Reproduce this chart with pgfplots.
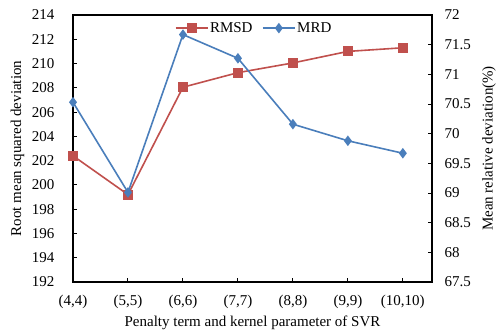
\documentclass[border=0pt]{standalone}
\usepackage{fontspec}
\setmainfont{Liberation Serif}
\usepackage{pgfplots}
\pgfplotsset{compat=1.18}
\definecolor{rred}{RGB}{192,80,77}
\definecolor{mblue}{RGB}{74,126,187}
\begin{document}
\begin{tikzpicture}
\pgfplotsset{
  every axis/.append style={
    scale only axis, width=359pt, height=267pt,
    xmin=0, xmax=6.53,
    tick align=inside,
    major tick length=4pt,
    every tick/.style={black, line width=1pt},
    tick label style={font=\fontsize{15}{17}\selectfont},
    label style={font=\fontsize{15}{17}\selectfont},
    /pgf/number format/assume math mode=true,
    axis line style={line width=1.3pt},
  }
}
\begin{axis}[
  name=main,
  ymin=192, ymax=214, ytick={192,194,...,214},
  xtick={0,...,6},
  xticklabels={(4,4),(5,5),(6,6),(7,7),(8,8),(9,9),(10,10)},
  xtick pos=bottom, ytick pos=left,
  xticklabel style={anchor=center, yshift=-20pt},
  yticklabel style={anchor=east, xshift=-15pt},
  xlabel={Penalty term and kernel parameter of SVR},
  ylabel={Root mean squared deviation},
  xlabel style={at={(axis description cs:0.5,0)}, anchor=center, yshift=-41pt},
  ylabel style={at={(axis description cs:-0.1546,0.5)}, anchor=center},
  clip=false,
]
\addplot[color=rred, line width=1.6pt, mark=square*, mark size=4.2pt, mark options={fill=rred}]
coordinates {(0,202.4) (1,199.2) (2,208.05) (3,209.25) (4,210.05) (5,211.0) (6,211.3)};
\end{axis}
\begin{axis}[
  ymin=67.5, ymax=72, ytick={67.5,68,...,72},
  /pgf/number format/fixed, /pgf/number format/precision=1,
  yticklabel style={anchor=west, xshift=9pt},
  axis x line=none,
  axis y line*=right,
  ylabel={Mean relative deviation(\%)},
  ylabel style={at={(axis description cs:1.1588,0.5)}, anchor=center},
  legend style={at={(0.284,0.951)}, anchor=west, draw=none, fill=none,
    inner sep=0pt, outer sep=0pt,
    legend columns=2, font=\fontsize{15}{17}\selectfont,
    nodes={inner sep=1.5pt},
    /tikz/every even column/.append style={column sep=8pt}},
  legend image code/.code={\draw[#1] (0pt,0pt) -- (32pt,0pt); \draw[#1, mark repeat=2, mark phase=2] plot coordinates {(0pt,0pt) (16pt,0pt) (32pt,0pt)};},
  clip=false,
]
\addlegendimage{color=rred, line width=1.6pt, mark=square*, mark size=4.2pt, mark options={fill=rred}}
\addlegendentry{RMSD}
\addplot[color=mblue, line width=1.6pt, mark=diamond*, mark size=4pt, mark options={fill=mblue}]
coordinates {(0,70.53) (1,69.01) (2,71.67) (3,71.27) (4,70.16) (5,69.88) (6,69.67)};
\addlegendentry{MRD}
\end{axis}
\pgfresetboundingbox
\path ([shift={(-73pt,-53pt)}]main.south west) rectangle ++(503pt,335pt);
\end{tikzpicture}
\end{document}
